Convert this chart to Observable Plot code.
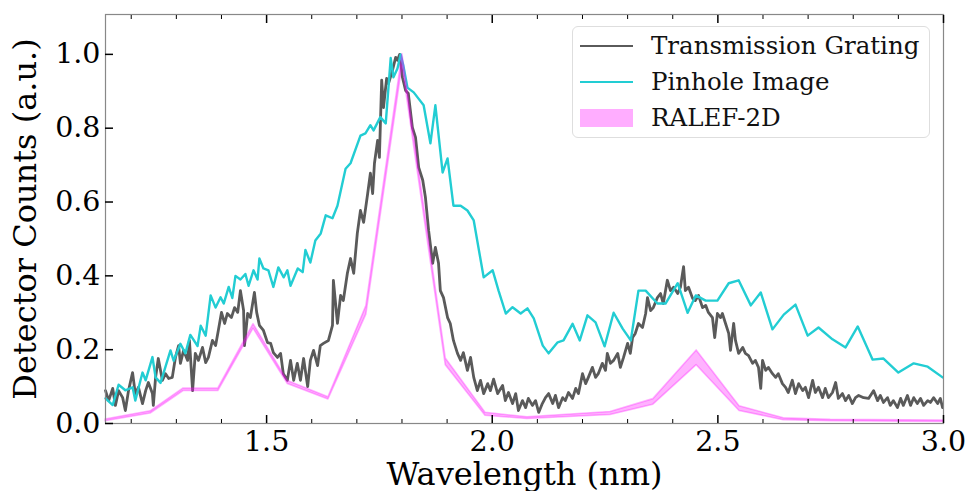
<!DOCTYPE html>
<html>
<head>
<meta charset="utf-8">
<script src="https://cdn.jsdelivr.net/npm/d3@7"></script>
<script src="https://cdn.jsdelivr.net/npm/@observablehq/plot@0.6"></script>
<style>
  body { margin: 0; background: #fff; }
  #wrap { position: relative; width: 966px; height: 491px; font-family: "DejaVu Serif"; }
  #legend { position: absolute; left: 572px; top: 26px; width: 358px; height: 112px; box-sizing: border-box;
            border: 1.5px solid #dedede; border-radius: 6px; background: rgba(255,255,255,0.8); }
  .row { position: absolute; left: 0; height: 30px; width: 100%; }
  .sw { position: absolute; left: 7px; width: 53px; }
  .lab { position: absolute; left: 78px; font-size: 24.5px; line-height: 30px; top: 0; color: #111; white-space: nowrap; }
</style>
</head>
<body>
<div id="wrap"></div>
<script>
// Transmission Grating (wavelength nm, normalized counts)
const tgX = [1.143,1.150,1.159,1.165,1.172,1.181,1.187,1.194,1.203,1.209,1.216,1.225,1.232,1.238,1.247,1.249,1.254,1.260,1.269,1.276,1.283,1.291,1.298,1.305,1.309,1.316,1.325,1.329,1.336,1.342,1.349,1.358,1.365,1.371,1.380,1.387,1.393,1.400,1.407,1.413,1.422,1.429,1.436,1.442,1.449,1.451,1.458,1.464,1.473,1.478,1.484,1.493,1.502,1.509,1.515,1.524,1.531,1.537,1.546,1.553,1.560,1.568,1.575,1.582,1.591,1.597,1.604,1.613,1.619,1.626,1.637,1.646,1.648,1.657,1.664,1.670,1.679,1.686,1.693,1.701,1.708,1.715,1.724,1.730,1.735,1.739,1.746,1.750,1.755,1.759,1.766,1.770,1.779,1.786,1.790,1.795,1.801,1.808,1.814,1.823,1.830,1.837,1.846,1.852,1.859,1.868,1.874,1.881,1.885,1.892,1.901,1.907,1.914,1.923,1.930,1.936,1.945,1.952,1.959,1.967,1.974,1.981,1.990,1.996,2.003,2.012,2.023,2.029,2.036,2.045,2.052,2.058,2.067,2.074,2.080,2.089,2.096,2.103,2.111,2.118,2.125,2.134,2.140,2.147,2.156,2.162,2.169,2.178,2.185,2.191,2.200,2.207,2.213,2.222,2.229,2.235,2.244,2.251,2.255,2.262,2.269,2.278,2.284,2.291,2.300,2.306,2.311,2.317,2.324,2.333,2.340,2.344,2.351,2.357,2.366,2.373,2.379,2.388,2.395,2.402,2.411,2.417,2.424,2.428,2.435,2.444,2.450,2.457,2.466,2.473,2.479,2.488,2.493,2.499,2.506,2.510,2.517,2.524,2.528,2.535,2.539,2.546,2.555,2.561,2.568,2.577,2.583,2.590,2.595,2.599,2.606,2.612,2.621,2.628,2.634,2.643,2.650,2.656,2.665,2.672,2.679,2.688,2.694,2.701,2.710,2.716,2.723,2.732,2.738,2.745,2.754,2.761,2.767,2.776,2.783,2.790,2.798,2.805,2.812,2.823,2.834,2.845,2.854,2.860,2.867,2.876,2.882,2.889,2.898,2.905,2.911,2.920,2.927,2.934,2.942,2.949,2.956,2.965,2.971,2.978,2.987,2.993,2.998];
const tgY = [0.089,0.062,0.095,0.049,0.089,0.070,0.035,0.089,0.138,0.081,0.098,0.054,0.089,0.111,0.081,0.049,0.125,0.176,0.117,0.135,0.122,0.125,0.179,0.211,0.163,0.198,0.171,0.225,0.089,0.190,0.171,0.206,0.165,0.179,0.225,0.211,0.252,0.301,0.271,0.298,0.287,0.314,0.301,0.360,0.306,0.211,0.298,0.287,0.355,0.301,0.266,0.252,0.219,0.217,0.192,0.179,0.190,0.135,0.117,0.171,0.117,0.163,0.117,0.176,0.100,0.171,0.198,0.157,0.211,0.217,0.225,0.266,0.388,0.271,0.347,0.333,0.407,0.447,0.407,0.515,0.577,0.545,0.623,0.678,0.623,0.705,0.767,0.721,0.930,0.856,0.935,0.921,0.957,0.992,0.984,1.000,0.938,0.902,0.894,0.802,0.775,0.694,0.659,0.612,0.523,0.434,0.477,0.434,0.360,0.341,0.287,0.271,0.225,0.190,0.171,0.192,0.144,0.179,0.125,0.089,0.117,0.081,0.108,0.089,0.120,0.081,0.103,0.062,0.084,0.054,0.081,0.035,0.062,0.043,0.068,0.049,0.062,0.030,0.054,0.070,0.081,0.054,0.076,0.043,0.070,0.062,0.084,0.068,0.095,0.081,0.135,0.108,0.125,0.152,0.125,0.135,0.163,0.144,0.190,0.163,0.171,0.190,0.152,0.179,0.217,0.190,0.233,0.244,0.271,0.260,0.298,0.341,0.306,0.314,0.341,0.352,0.325,0.388,0.360,0.369,0.352,0.369,0.425,0.360,0.369,0.339,0.333,0.347,0.314,0.320,0.301,0.287,0.233,0.298,0.287,0.298,0.271,0.244,0.198,0.271,0.225,0.190,0.206,0.190,0.184,0.163,0.171,0.152,0.095,0.171,0.144,0.152,0.135,0.125,0.135,0.108,0.098,0.084,0.117,0.081,0.108,0.089,0.098,0.070,0.117,0.084,0.098,0.070,0.095,0.070,0.084,0.111,0.068,0.081,0.062,0.076,0.054,0.070,0.076,0.070,0.068,0.089,0.062,0.076,0.057,0.070,0.049,0.062,0.043,0.068,0.049,0.076,0.049,0.070,0.054,0.068,0.049,0.062,0.057,0.070,0.054,0.068,0.043];

// Pinhole Image
const phX = [1.143,1.159,1.172,1.187,1.203,1.209,1.225,1.232,1.247,1.254,1.265,1.287,1.294,1.309,1.320,1.331,1.347,1.354,1.365,1.376,1.387,1.398,1.405,1.416,1.424,1.431,1.442,1.453,1.460,1.471,1.480,1.484,1.493,1.504,1.515,1.526,1.538,1.546,1.553,1.569,1.580,1.586,1.597,1.608,1.620,1.631,1.646,1.657,1.675,1.686,1.708,1.719,1.730,1.737,1.752,1.764,1.775,1.781,1.790,1.797,1.803,1.812,1.826,1.848,1.863,1.874,1.890,1.901,1.914,1.930,1.945,1.959,1.981,2.001,2.014,2.030,2.045,2.063,2.078,2.092,2.112,2.125,2.145,2.158,2.178,2.194,2.211,2.229,2.249,2.269,2.289,2.307,2.324,2.340,2.366,2.384,2.411,2.433,2.451,2.473,2.499,2.524,2.546,2.573,2.595,2.621,2.646,2.672,2.699,2.723,2.754,2.783,2.810,2.843,2.867,2.900,2.934,2.965,2.998];
const phY = [0.068,0.050,0.105,0.090,0.098,0.062,0.138,0.117,0.180,0.125,0.110,0.198,0.170,0.216,0.190,0.240,0.210,0.265,0.238,0.347,0.314,0.342,0.325,0.370,0.340,0.400,0.390,0.405,0.373,0.415,0.390,0.447,0.420,0.415,0.370,0.423,0.396,0.415,0.373,0.420,0.410,0.470,0.436,0.496,0.515,0.564,0.556,0.590,0.690,0.705,0.780,0.786,0.808,0.794,0.830,0.813,0.990,0.938,0.962,1.000,0.970,0.910,0.897,0.862,0.759,0.862,0.680,0.718,0.590,0.590,0.577,0.550,0.396,0.415,0.360,0.298,0.315,0.298,0.312,0.285,0.211,0.190,0.220,0.225,0.270,0.225,0.293,0.274,0.209,0.300,0.257,0.225,0.360,0.360,0.325,0.325,0.380,0.300,0.347,0.333,0.333,0.380,0.388,0.320,0.355,0.255,0.295,0.322,0.238,0.260,0.228,0.206,0.263,0.173,0.176,0.138,0.163,0.154,0.125];

// RALEF-2D band (lower / upper)
const raX  = [1.143,1.243,1.316,1.393,1.471,1.547,1.637,1.721,1.801,1.897,1.985,2.078,2.262,2.357,2.453,2.548,2.646,2.750,3.000];
const raLo = [0.006,0.027,0.088,0.088,0.257,0.107,0.065,0.295,0.970,0.158,0.021,0.012,0.023,0.051,0.158,0.034,0.009,0.006,0.004];
const raHi = [0.011,0.033,0.095,0.095,0.269,0.115,0.071,0.318,1.000,0.176,0.029,0.017,0.031,0.066,0.198,0.047,0.014,0.010,0.008];

const xMajor = [1.5, 2.0, 2.5, 3.0];
const xMinor = [1.2,1.3,1.4,1.6,1.7,1.8,1.9,2.1,2.2,2.3,2.4,2.6,2.7,2.8,2.9];
const yMajor = [0.0, 0.2, 0.4, 0.6, 0.8, 1.0];

const labels = {x: "Wavelength (nm)", y: "Detector Counts (a.u.)"};
const seriesNames = ["Transmission Grating", "Pinhole Image", "RALEF-2D"];
const colors = {tg: "#5a5a5a", ph: "#22cdd3", ra: "#ff00ff"};

const tg = tgX.map((x, i) => ({x, y: tgY[i]}));
const ph = phX.map((x, i) => ({x, y: phY[i]}));
const ra = raX.map((x, i) => ({x, lo: raLo[i], hi: raHi[i]}));
const blank = () => "";

const chart = Plot.plot({
  width: 966, height: 491,
  marginLeft: 105, marginRight: 23, marginTop: 14, marginBottom: 68,
  style: {fontFamily: "DejaVu Serif", background: "white", color: "black"},
  x: {domain: [1.143, 3.0]},
  y: {domain: [0, 1.108]},
  marks: [
    Plot.line(tg, {x: "x", y: "y", stroke: colors.tg, strokeWidth: 2.8}),
    Plot.line(ph, {x: "x", y: "y", stroke: colors.ph, strokeWidth: 2.4}),
    Plot.areaY(ra, {x: "x", y1: "lo", y2: "hi", fill: colors.ra, fillOpacity: 0.3,
                    stroke: colors.ra, strokeOpacity: 0.3, strokeWidth: 1.6}),
    Plot.frame({stroke: "#888", strokeWidth: 1.2}),
    Plot.axisX(xMajor, {anchor: "bottom", tickSize: -8, tickPadding: 15, strokeWidth: 1.5,
                        tickFormat: d3.format(".1f"), fontSize: 28.5, label: null}),
    Plot.axisX(xMinor, {anchor: "bottom", tickSize: -4, tickFormat: blank, label: null}),
    Plot.axisX(xMajor, {anchor: "top", tickSize: -8, strokeWidth: 1.5, tickFormat: blank, label: null}),
    Plot.axisX(xMinor, {anchor: "top", tickSize: -4, tickFormat: blank, label: null}),
    Plot.axisY(yMajor, {anchor: "left", tickSize: -8, tickPadding: 13, strokeWidth: 1.5,
                        tickFormat: d3.format(".1f"), fontSize: 28.5, label: null}),
    Plot.text([labels.x], {text: d => d, frameAnchor: "bottom", dy: 61, lineAnchor: "bottom", fontSize: 32}),
    Plot.text([labels.y], {text: d => d, frameAnchor: "left", dx: -92, rotate: -90, textAnchor: "middle",
                           lineAnchor: "top", fontSize: 32})
  ]
});

const wrap = document.getElementById("wrap");
wrap.appendChild(chart);

const legend = document.createElement("div");
legend.id = "legend";
const swatches = [
  `<div class="sw" style="top:14px;height:0;border-top:2.5px solid ${colors.tg}"></div>`,
  `<div class="sw" style="top:14px;height:0;border-top:2.5px solid ${colors.ph}"></div>`,
  `<div class="sw" style="top:6px;height:18px;background:${colors.ra};opacity:0.32"></div>`
];
const tops = [4, 40, 76];
seriesNames.forEach((name, i) => {
  const row = document.createElement("div");
  row.className = "row";
  row.style.top = tops[i] + "px";
  row.innerHTML = swatches[i] + `<div class="lab">${name}</div>`;
  legend.appendChild(row);
});
wrap.appendChild(legend);
</script>
</body>
</html>
